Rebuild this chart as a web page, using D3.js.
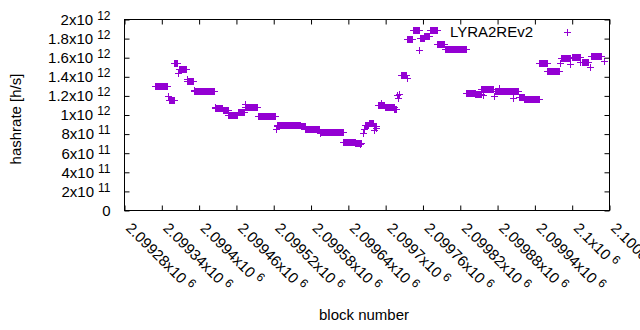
<!DOCTYPE html>
<html>
<head>
<meta charset="utf-8">
<script src="https://cdn.jsdelivr.net/npm/d3@7"></script>
<style>
  body { margin: 0; background: #fff; }
  text { font-family: "Liberation Sans", Arial, sans-serif; }
</style>
</head>
<body>
<div id="chart"></div>
<script>
// Set variables
const FRAME_WIDTH = 640;
const FRAME_HEIGHT = 330;
const MARGINS = {left: 124.5, right: 30.5, top: 19.5, bottom: 119.5};
const VIS_WIDTH = FRAME_WIDTH - MARGINS.left - MARGINS.right;
const VIS_HEIGHT = FRAME_HEIGHT - MARGINS.top - MARGINS.bottom;
const COLOR = "#9400d3";

// block numbers are offsets from this base
const BLOCK_BASE = 2099280;

// runs of blocks sharing the same hashrate (x10^12 h/s)
const runFirst = [49, 71, 80, 88, 101, 112, 146, 158, 167, 182, 194, 214, 246, 284, 291, 315, 352, 371,
                  386, 393, 401, 408, 419, 434, 444, 455, 464, 475, 482, 491, 503, 515, 550, 564, 574,
                  596, 634, 643, 667, 680, 702, 719, 735, 750];
const runLast  = [69, 79, 85, 99, 110, 144, 157, 166, 181, 192, 213, 242, 283, 290, 313, 351, 370, 381,
                  392, 399, 404, 418, 433, 437, 453, 463, 473, 481, 489, 502, 514, 549, 563, 573, 593,
                  633, 642, 666, 679, 699, 716, 732, 746, 767];
const runRate  = [1.300, 1.160, 1.541, 1.478, 1.353, 1.249, 1.070, 1.049, 1.003, 1.028, 1.081, 0.985,
                  0.893, 0.882, 0.850, 0.827, 0.720, 0.710, 0.900, 0.918, 0.880, 1.105, 1.087, 1.063,
                  1.416, 1.792, 1.887, 1.809, 1.829, 1.887, 1.743, 1.688, 1.232, 1.225, 1.275, 1.254,
                  1.193, 1.163, 1.541, 1.465, 1.592, 1.606, 1.558, 1.618];

// single blocks off their run
const pointBlock = [70, 86, 100, 111, 145, 193, 243, 245, 314, 378, 383, 385, 402, 405, 412, 439, 440,
                    442, 454, 474, 576, 595, 602, 625, 700, 717, 733, 748, 771];
const pointRate  = [1.196, 1.443, 1.374, 1.259, 1.081, 1.115, 0.850, 0.880, 0.808, 0.700, 0.815, 0.850,
                    0.840, 0.860, 1.122, 1.210, 1.180, 1.217, 1.384, 1.681, 1.210, 1.200, 1.280, 1.175,
                    1.548, 1.530, 1.550, 1.506, 1.567];

// ticks
const xTicks = [0, 60, 120, 180, 240, 300, 360, 420, 480, 540, 600, 660, 720, 780];
const xTickMain = ["2.09928x10", "2.09934x10", "2.0994x10", "2.09946x10", "2.09952x10", "2.09958x10",
                   "2.09964x10", "2.0997x10", "2.09976x10", "2.09982x10", "2.09988x10", "2.09994x10",
                   "2.1x10", "2.10006x10"];
const xTickExp = "6";
const yTicks = [0, 0.2, 0.4, 0.6, 0.8, 1.0, 1.2, 1.4, 1.6, 1.8, 2.0];
const yTickMain = ["0", "2x10", "4x10", "6x10", "8x10", "1x10", "1.2x10", "1.4x10", "1.6x10", "1.8x10", "2x10"];
const yTickExp = ["", "11", "11", "11", "11", "12", "12", "12", "12", "12", "12"];

// expand runs into one point per block
const data = [];
runFirst.forEach((f, i) => {
  for (let b = f; b <= runLast[i]; b++) data.push({block: b, rate: runRate[i]});
});
pointBlock.forEach((b, i) => data.push({block: b, rate: pointRate[i]}));

const FRAME = d3.select("#chart")
                .append("svg")
                  .attr("width", FRAME_WIDTH)
                  .attr("height", FRAME_HEIGHT);

const X_SCALE = d3.scaleLinear()
                  .domain([0, 780])
                  .range([MARGINS.left, MARGINS.left + VIS_WIDTH]);

const Y_SCALE = d3.scaleLinear()
                  .domain([0, 2])
                  .range([MARGINS.top + VIS_HEIGHT, MARGINS.top]);

// points as "+" marks
const ARM = 3.5;
FRAME.append("g")
     .selectAll("path")
     .data(data)
     .enter()
     .append("path")
       .attr("d", (d) => {
         const cx = Math.round(X_SCALE(d.block)) + 0.5;
         const cy = Math.round(Y_SCALE(d.rate)) + 0.5;
         return "M" + (cx - ARM) + "," + cy + "H" + (cx + ARM) +
                "M" + cx + "," + (cy - ARM) + "V" + (cy + ARM);
       })
       .attr("stroke", COLOR)
       .attr("stroke-width", 1)
       .attr("fill", "none");

// superscript helper
function addExp(sel, exps) {
  sel.each(function(d, i) {
    const e = typeof exps === "string" ? exps : exps[i];
    if (!e) return;
    d3.select(this).append("tspan")
      .attr("dx", 4)
      .attr("dy", -5)
      .attr("font-size", 12)
      .text(e);
  });
}

// left axis
const yAxis = FRAME.append("g")
     .attr("transform", "translate(" + MARGINS.left + ",0)")
     .call(d3.axisLeft(Y_SCALE).tickValues(yTicks).tickSizeInner(-5).tickSizeOuter(0)
             .tickPadding(14).tickFormat((d, i) => yTickMain[i]));
yAxis.selectAll("text")
     .attr("font-size", 15)
     .attr("font-family", "Liberation Sans, Arial, sans-serif")
     .attr("fill", "#000")
     .call(addExp, yTickExp);

// right axis (mirror ticks)
FRAME.append("g")
     .attr("transform", "translate(" + (MARGINS.left + VIS_WIDTH) + ",0)")
     .call(d3.axisRight(Y_SCALE).tickValues(yTicks).tickSizeInner(-5).tickSizeOuter(0).tickFormat(""));

// bottom axis
const xAxis = FRAME.append("g")
     .attr("transform", "translate(0," + (MARGINS.top + VIS_HEIGHT) + ")")
     .call(d3.axisBottom(X_SCALE).tickValues(xTicks).tickSizeInner(-5).tickSizeOuter(0)
             .tickFormat((d, i) => xTickMain[i]));
xAxis.selectAll("text")
     .attr("y", null)
     .attr("dy", null)
     .attr("transform", "translate(0,18.5) rotate(45)")
     .attr("text-anchor", "start")
     .attr("font-size", 15)
     .attr("font-family", "Liberation Sans, Arial, sans-serif")
     .attr("fill", "#000")
     .call(addExp, xTickExp);

// top axis (mirror ticks)
FRAME.append("g")
     .attr("transform", "translate(0," + MARGINS.top + ")")
     .call(d3.axisTop(X_SCALE).tickValues(xTicks).tickSizeInner(-5).tickSizeOuter(0).tickFormat(""));

FRAME.selectAll(".domain").remove();
FRAME.selectAll(".tick line").attr("stroke", "#000");

// border
FRAME.append("rect")
     .attr("x", MARGINS.left)
     .attr("y", MARGINS.top)
     .attr("width", VIS_WIDTH)
     .attr("height", VIS_HEIGHT)
     .attr("fill", "none")
     .attr("stroke", "#000");

// axis titles
FRAME.append("text")
     .attr("transform", "translate(21,119) rotate(-90)")
     .attr("text-anchor", "middle")
     .attr("font-size", 15)
     .text("hashrate [h/s]");

FRAME.append("text")
     .attr("x", 364)
     .attr("y", 320)
     .attr("text-anchor", "middle")
     .attr("font-size", 15)
     .text("block number");

// legend
FRAME.append("text")
     .attr("x", 533)
     .attr("y", 37)
     .attr("text-anchor", "end")
     .attr("font-size", 15)
     .text("LYRA2REv2");

FRAME.append("path")
     .attr("d", "M" + (567.5 - ARM) + ",32.5H" + (567.5 + ARM) + "M567.5," + (32.5 - ARM) + "V" + (32.5 + ARM))
     .attr("stroke", COLOR)
     .attr("fill", "none");
</script>
</body>
</html>
